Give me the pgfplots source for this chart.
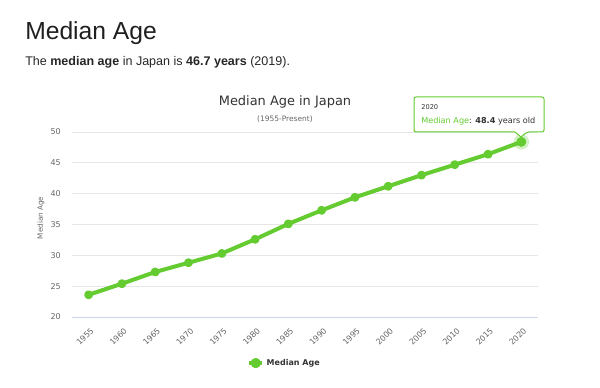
\documentclass[border=0pt]{standalone}
\usepackage{pgfplots}
\pgfplotsset{compat=1.18}
\usepackage{fontspec}
\setmainfont{Liberation Sans}
\newfontfamily\chartfont{DejaVu Sans}
\definecolor{lgreen}{RGB}{100,204,48}
\definecolor{tickgray}{RGB}{102,102,102}
\definecolor{gridgray}{RGB}{230,230,230}
\definecolor{axisblue}{RGB}{204,214,235}
\definecolor{titlegray}{RGB}{51,51,51}
\begin{document}
\begin{tikzpicture}
\path[use as bounding box] (0,0) rectangle (450pt,-291pt);
\begin{axis}[
  at={(54pt,-237.75pt)}, anchor=south west,
  scale only axis, width=349.5pt, height=138.75pt,
  xmin=1952.5, xmax=2022.5, ymin=20, ymax=50,
  xtick={1955,1960,...,2020}, ytick={20,25,...,50},
  axis line style={draw=none},
  ymajorgrids, grid style={gridgray, line width=0.75pt},
  major tick length=0pt,
  /pgf/number format/assume math mode=true,
  /pgf/number format/set thousands separator={},
  tick label style={font=\chartfont\fontsize{6}{7}\selectfont, text=tickgray},
  y tick label style={anchor=east, inner sep=0pt, xshift=-8.25pt},
  x tick label style={rotate=45, anchor=north east, inner sep=0pt, yshift=-6pt, xshift=-4.5pt},
  legend style={at={(0.457,-0.249)}, anchor=center, draw=none, fill=none,
    font=\chartfont\bfseries\fontsize{6}{7}\selectfont, text=titlegray},
  legend image code/.code={
    \draw[lgreen, line width=3pt] (0pt,0pt) -- (0.33cm,0pt);
    \fill[lgreen] (0.165cm,0pt) circle (2.3pt);},
  clip=false,
]
\draw[axisblue, line width=0.75pt] (axis cs:1952.5,20) -- (axis cs:2022.5,20);
\addplot[lgreen, line width=3pt, mark=*, mark size=1.8pt, line join=round] coordinates {
(1955,23.6) (1960,25.4) (1965,27.3) (1970,28.8) (1975,30.3) (1980,32.6) (1985,35.1)
(1990,37.3) (1995,39.4) (2000,41.2) (2005,43.0) (2010,44.7) (2015,46.4) (2020,48.4)};
\addlegendentry{Median Age}
\addplot[forget plot, only marks, mark=*, mark size=5.5pt, lgreen, opacity=0.25] coordinates {(2020,48.4)};
\addplot[forget plot, only marks, mark=*, mark size=3.5pt, lgreen] coordinates {(2020,48.4)};
\end{axis}
\begin{scope}[x=0.75pt, y=-0.75pt]
\node[anchor=base west, inner sep=0pt, text=black!88] at (25,40) {\fontsize{18.5}{22}\selectfont Median Age};
\node[anchor=base west, inner sep=0pt, text=black!85] at (25,66) {\fontsize{9.4}{12}\selectfont The \textbf{median age} in Japan is \textbf{46.7 years} (2019).};
\node[anchor=base, inner sep=0pt, text=titlegray] at (285,106) {\chartfont\fontsize{9.7}{12}\selectfont Median Age in Japan};
\node[anchor=base, inner sep=0pt, text=tickgray] at (285,122) {\chartfont\fontsize{5.6}{7}\selectfont (1955-Present)};
\node[rotate=90, inner sep=0pt, text=tickgray] at (41,218) {\chartfont\fontsize{5.4}{7}\selectfont Median Age};
\draw[lgreen, line width=0.75pt, fill=white, rounded corners=1.5pt]
  (414,97) -- (544,97) -- (544,132) -- (527,132) [sharp corners] -- (521,137) -- (515,132) [rounded corners=1.5pt] -- (414,132) -- cycle;
\node[anchor=base west, inner sep=0pt, text=titlegray] at (421,110) {\chartfont\fontsize{5}{6}\selectfont 2020};
\node[anchor=base west, inner sep=0pt, text=titlegray] at (421,124) {\chartfont\fontsize{6.1}{7}\selectfont \textcolor{lgreen}{Median Age}: \textbf{48.4} years old};
\end{scope}
\end{tikzpicture}
\end{document}
